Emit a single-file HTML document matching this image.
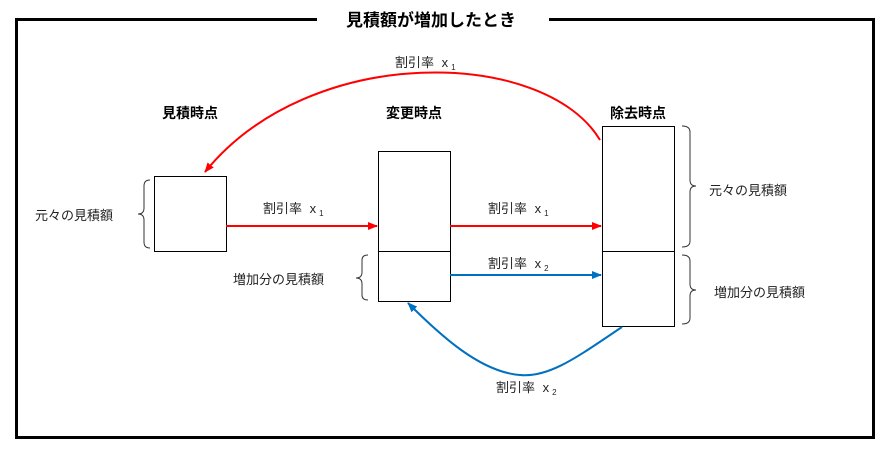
<!DOCTYPE html>
<html><head><meta charset="utf-8"><style>
body{margin:0;background:#fff;width:890px;height:449px;overflow:hidden;font-family:"Liberation Sans","Noto Sans CJK JP",sans-serif;}
</style></head><body>
<svg width="890" height="449" xmlns="http://www.w3.org/2000/svg" font-family="Liberation Sans, Noto Sans CJK JP, sans-serif">
<defs>
<marker id="r" markerWidth="10" markerHeight="8" refX="9" refY="4" orient="auto" markerUnits="userSpaceOnUse"><path d="M0,0 L10,4 L0,8 z" fill="#f00"/></marker>
<marker id="b" markerWidth="10" markerHeight="8" refX="9" refY="4" orient="auto" markerUnits="userSpaceOnUse"><path d="M0,0 L10,4 L0,8 z" fill="#0070c0"/></marker>
</defs>
<rect x="16.5" y="19.5" width="857" height="418" fill="none" stroke="#000" stroke-width="3"/>
<rect x="317" y="10" width="232" height="20" fill="#fff"/>
<text x="431" y="26" font-size="17" font-weight="bold" text-anchor="middle">見積額が増加したとき</text>
<g font-size="14" font-weight="bold" text-anchor="middle">
<text x="190" y="118">見積時点</text><text x="414" y="118">変更時点</text><text x="638" y="118">除去時点</text>
</g>
<g fill="none" stroke="#000" stroke-width="1">
<rect x="154.5" y="176.5" width="72" height="75"/>
<rect x="378.5" y="151.5" width="72" height="100"/><rect x="378.5" y="251.5" width="72" height="50"/>
<rect x="602.5" y="126.5" width="72" height="125"/><rect x="602.5" y="251.5" width="72" height="75"/>
</g>
<g fill="none" stroke="#333" stroke-width="1">
<path d="M150,180 Q144,180 144,186 L144,208 Q144,214 138,214 Q144,214 144,220 L144,242 Q144,248 150,248"/>
<path d="M368,255 Q362,255 362,260 L362,272 Q362,278 356,278 Q362,278 362,284 L362,295 Q362,300 368,300"/>
<path d="M682,126 Q690,126 690,132 L690,180 Q690,186 696,186 Q690,186 690,192 L690,241 Q690,247 682,247"/>
<path d="M682,255 Q690,255 690,261 L690,284 Q690,290 696,290 Q690,290 690,296 L690,318 Q690,324 682,324"/>
</g>
<g font-size="13" fill="#222">
<text x="35" y="220">元々の見積額</text>
<text x="233" y="284">増加分の見積額</text>
<text x="709" y="195">元々の見積額</text>
<text x="714" y="297">増加分の見積額</text>
<text x="263" y="213">割引率 <tspan dx="4">x</tspan><tspan font-size="8" dy="3" dx="3">1</tspan></text>
<text x="488" y="213">割引率 <tspan dx="4">x</tspan><tspan font-size="8" dy="3" dx="3">1</tspan></text>
<text x="488" y="268">割引率 <tspan dx="4">x</tspan><tspan font-size="8" dy="3" dx="3">2</tspan></text>
<text x="395" y="67">割引率 <tspan dx="4">x</tspan><tspan font-size="8" dy="3" dx="3">1</tspan></text>
<text x="496" y="392">割引率 <tspan dx="4">x</tspan><tspan font-size="8" dy="3" dx="3">2</tspan></text>
</g>
<g fill="none" stroke-width="2">
<line x1="226" y1="226" x2="377" y2="226" stroke="#f00" marker-end="url(#r)"/>
<line x1="450" y1="226" x2="601" y2="226" stroke="#f00" marker-end="url(#r)"/>
<line x1="450" y1="275" x2="601" y2="275" stroke="#0070c0" marker-end="url(#b)"/>
<path d="M600,140 C545,48 310,42 205,172" stroke="#f00" marker-end="url(#r)"/>
<path d="M622,327 C580,355 550,378 520,375 C480,372 440,335 408,303" stroke="#0070c0" marker-end="url(#b)"/>
</g>
</svg>
</body></html>
